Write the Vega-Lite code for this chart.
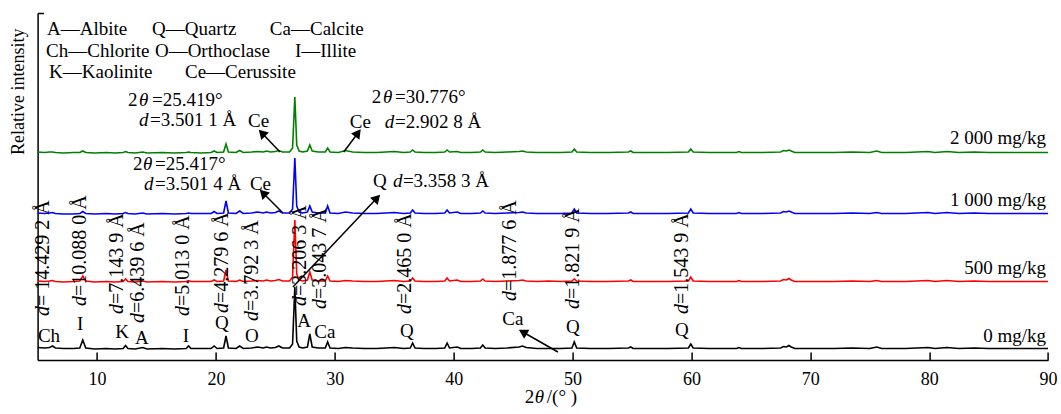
{
  "$schema": "https://vega.github.io/schema/vega-lite/v6.json",
  "width": 1010.4,
  "height": 347,
  "autosize": {"type": "none"},
  "padding": {"left": 37.6, "top": 13, "right": 13, "bottom": 54},
  "background": "white",
  "config": {"view": {"stroke": null}, "font": "Liberation Serif", "text": {"font": "Liberation Serif", "fontSize": 19, "color": "black"}},
  "datasets": {
    "xrd": [
      {"x":5.0,"k0":12.5,"k500":79,"k1000":147,"k2000":208},
      {"x":5.6,"k0":12,"k500":78.5,"k1000":146.5,"k2000":207.5},
      {"x":6.0,"k0":12.5,"k500":79,"k1000":147,"k2000":208},
      {"x":6.25,"k0":14,"k500":79.5,"k1000":147.5,"k2000":208},
      {"x":6.5,"k0":12,"k500":78.5,"k1000":146.5,"k2000":207.5},
      {"x":7.2,"k0":11.5,"k500":78,"k1000":146,"k2000":207},
      {"x":8.0,"k0":11.5,"k500":78.5,"k1000":146,"k2000":207.5},
      {"x":8.55,"k0":12,"k500":79,"k1000":146.5,"k2000":207.5},
      {"x":8.8,"k0":20,"k500":84,"k1000":148.5,"k2000":209},
      {"x":9.05,"k0":12,"k500":79,"k1000":146.5,"k2000":207.5},
      {"x":9.8,"k0":11,"k500":78,"k1000":146,"k2000":207},
      {"x":10.8,"k0":11.5,"k500":78.5,"k1000":146.5,"k2000":207.5},
      {"x":11.5,"k0":11,"k500":78,"k1000":146,"k2000":207},
      {"x":12.2,"k0":11.5,"k500":78.5,"k1000":146.5,"k2000":207.5},
      {"x":12.4,"k0":14.5,"k500":81,"k1000":147.5,"k2000":208.5},
      {"x":12.6,"k0":11.5,"k500":78.5,"k1000":146.5,"k2000":207.5},
      {"x":13.2,"k0":11,"k500":78,"k1000":146,"k2000":207},
      {"x":13.85,"k0":12.5,"k500":79,"k1000":147,"k2000":208},
      {"x":14.2,"k0":11,"k500":78,"k1000":146,"k2000":207},
      {"x":15.5,"k0":11.5,"k500":78.5,"k1000":146.5,"k2000":207.5},
      {"x":16.5,"k0":11,"k500":78,"k1000":146,"k2000":207},
      {"x":17.5,"k0":11.5,"k500":78.5,"k1000":146.5,"k2000":207.5},
      {"x":17.7,"k0":14,"k500":79.5,"k1000":147,"k2000":208},
      {"x":17.9,"k0":11.5,"k500":78.5,"k1000":146.5,"k2000":207.5},
      {"x":18.8,"k0":11.5,"k500":78.5,"k1000":146.5,"k2000":207},
      {"x":19.6,"k0":11.5,"k500":78.5,"k1000":146.5,"k2000":207.5},
      {"x":19.85,"k0":14,"k500":80,"k1000":148.5,"k2000":209},
      {"x":20.1,"k0":11.5,"k500":78.5,"k1000":146.5,"k2000":207.5},
      {"x":20.65,"k0":12,"k500":79,"k1000":147,"k2000":208},
      {"x":20.85,"k0":24,"k500":90,"k1000":159,"k2000":216},
      {"x":21.05,"k0":12,"k500":79,"k1000":147,"k2000":208},
      {"x":21.7,"k0":11.5,"k500":78.5,"k1000":146.5,"k2000":207.5},
      {"x":22.0,"k0":14,"k500":80,"k1000":149,"k2000":209.5},
      {"x":22.3,"k0":11.5,"k500":78.5,"k1000":146.5,"k2000":207.5},
      {"x":23.0,"k0":12,"k500":79,"k1000":147,"k2000":208},
      {"x":23.5,"k0":13,"k500":79.5,"k1000":148,"k2000":208.5},
      {"x":24.0,"k0":12,"k500":79,"k1000":147,"k2000":208},
      {"x":24.25,"k0":13,"k500":80,"k1000":148,"k2000":209},
      {"x":24.6,"k0":12,"k500":79,"k1000":147,"k2000":208},
      {"x":25.0,"k0":12.5,"k500":79.5,"k1000":147.5,"k2000":208.5},
      {"x":25.3,"k0":14,"k500":80.5,"k1000":149,"k2000":209.5},
      {"x":25.6,"k0":12,"k500":79,"k1000":147,"k2000":208},
      {"x":26.2,"k0":12,"k500":79,"k1000":147,"k2000":208},
      {"x":26.45,"k0":16,"k500":83,"k1000":151,"k2000":212},
      {"x":26.64,"k0":73,"k500":140,"k1000":202,"k2000":263},
      {"x":26.8,"k0":19,"k500":86,"k1000":154,"k2000":215},
      {"x":27.0,"k0":13,"k500":80,"k1000":148,"k2000":209},
      {"x":27.3,"k0":12,"k500":79,"k1000":147,"k2000":208},
      {"x":27.7,"k0":13,"k500":80,"k1000":148,"k2000":209},
      {"x":27.9,"k0":26,"k500":88,"k1000":154,"k2000":215},
      {"x":28.1,"k0":13,"k500":80,"k1000":148,"k2000":209},
      {"x":28.6,"k0":12,"k500":79,"k1000":147,"k2000":208},
      {"x":29.2,"k0":12,"k500":79,"k1000":147,"k2000":208},
      {"x":29.4,"k0":18,"k500":84,"k1000":154,"k2000":212},
      {"x":29.6,"k0":12,"k500":79,"k1000":147,"k2000":208},
      {"x":30.3,"k0":11.5,"k500":78.5,"k1000":146.5,"k2000":207.5},
      {"x":30.9,"k0":12.5,"k500":79.5,"k1000":148,"k2000":209.5},
      {"x":31.5,"k0":12,"k500":79,"k1000":147,"k2000":208},
      {"x":32.5,"k0":11.5,"k500":78.5,"k1000":146.5,"k2000":207.5},
      {"x":33.5,"k0":11.5,"k500":78.5,"k1000":146.5,"k2000":207.5},
      {"x":34.3,"k0":12,"k500":79,"k1000":147,"k2000":208},
      {"x":35.0,"k0":12.5,"k500":79.5,"k1000":147.5,"k2000":208.5},
      {"x":35.8,"k0":11.5,"k500":78.5,"k1000":146.5,"k2000":207.5},
      {"x":36.35,"k0":12,"k500":79,"k1000":147,"k2000":208},
      {"x":36.55,"k0":17,"k500":82,"k1000":150,"k2000":210},
      {"x":36.75,"k0":12,"k500":79,"k1000":147,"k2000":208},
      {"x":37.5,"k0":11.5,"k500":78.5,"k1000":146.5,"k2000":207.5},
      {"x":38.5,"k0":11.5,"k500":78.5,"k1000":146.5,"k2000":207.5},
      {"x":39.25,"k0":12,"k500":79,"k1000":147,"k2000":208},
      {"x":39.45,"k0":17,"k500":82,"k1000":150,"k2000":210},
      {"x":39.65,"k0":12,"k500":79,"k1000":147,"k2000":208},
      {"x":40.3,"k0":13,"k500":80,"k1000":148,"k2000":208.5},
      {"x":40.6,"k0":11.5,"k500":78.5,"k1000":146.5,"k2000":207.5},
      {"x":41.5,"k0":11.5,"k500":78.5,"k1000":146.5,"k2000":207.5},
      {"x":42.25,"k0":12,"k500":79,"k1000":147,"k2000":208},
      {"x":42.45,"k0":15,"k500":81,"k1000":149,"k2000":210},
      {"x":42.65,"k0":12,"k500":79,"k1000":147,"k2000":208},
      {"x":43.5,"k0":11.5,"k500":78.5,"k1000":146.5,"k2000":207.5},
      {"x":44.5,"k0":12,"k500":79,"k1000":147,"k2000":208},
      {"x":45.5,"k0":13,"k500":79.5,"k1000":147.5,"k2000":208.5},
      {"x":45.8,"k0":14,"k500":80,"k1000":148,"k2000":209},
      {"x":46.1,"k0":12.5,"k500":79,"k1000":147,"k2000":208},
      {"x":47.0,"k0":11.5,"k500":78.5,"k1000":146.5,"k2000":207.5},
      {"x":48.0,"k0":11.5,"k500":79,"k1000":146.5,"k2000":207.5},
      {"x":49.0,"k0":11.5,"k500":78.5,"k1000":146.5,"k2000":207.5},
      {"x":49.95,"k0":12,"k500":79,"k1000":147,"k2000":208},
      {"x":50.15,"k0":18,"k500":81,"k1000":151,"k2000":211},
      {"x":50.35,"k0":12,"k500":79,"k1000":147,"k2000":208},
      {"x":51.5,"k0":11.5,"k500":78.5,"k1000":146.5,"k2000":207.5},
      {"x":53.0,"k0":11.5,"k500":78.5,"k1000":146.5,"k2000":207.5},
      {"x":54.7,"k0":12,"k500":79,"k1000":147,"k2000":208},
      {"x":54.9,"k0":13,"k500":80,"k1000":148,"k2000":209},
      {"x":55.1,"k0":11.5,"k500":78.5,"k1000":146.5,"k2000":207.5},
      {"x":56.5,"k0":11.5,"k500":78.5,"k1000":146.5,"k2000":207.5},
      {"x":58.0,"k0":11.5,"k500":78.5,"k1000":146.5,"k2000":207.5},
      {"x":59.75,"k0":12,"k500":79,"k1000":147,"k2000":208},
      {"x":59.95,"k0":16,"k500":83,"k1000":151,"k2000":211},
      {"x":60.15,"k0":12,"k500":79,"k1000":147,"k2000":208},
      {"x":61.5,"k0":11.5,"k500":78.5,"k1000":146.5,"k2000":207.5},
      {"x":63.8,"k0":11.5,"k500":78.5,"k1000":146.5,"k2000":207.5},
      {"x":64.0,"k0":12.5,"k500":79.5,"k1000":147.5,"k2000":208.5},
      {"x":64.2,"k0":11.5,"k500":78.5,"k1000":146.5,"k2000":207.5},
      {"x":66.0,"k0":11.5,"k500":78.5,"k1000":146.5,"k2000":207.5},
      {"x":67.5,"k0":12,"k500":79,"k1000":147,"k2000":208},
      {"x":67.75,"k0":13.5,"k500":80.5,"k1000":148.5,"k2000":209.5},
      {"x":68.0,"k0":13,"k500":80,"k1000":148,"k2000":209},
      {"x":68.2,"k0":14.5,"k500":81.5,"k1000":149,"k2000":210},
      {"x":68.4,"k0":13,"k500":80,"k1000":148,"k2000":209},
      {"x":68.7,"k0":11.5,"k500":78.5,"k1000":146.5,"k2000":207.5},
      {"x":70.0,"k0":11.5,"k500":78.5,"k1000":146.5,"k2000":207.5},
      {"x":72.0,"k0":11.5,"k500":78.5,"k1000":146.5,"k2000":207.5},
      {"x":73.5,"k0":12,"k500":79,"k1000":147,"k2000":208},
      {"x":75.0,"k0":11.5,"k500":78.5,"k1000":146.5,"k2000":207.5},
      {"x":75.6,"k0":13,"k500":79.5,"k1000":147.5,"k2000":209},
      {"x":76.0,"k0":11.5,"k500":78.5,"k1000":146.5,"k2000":207.5},
      {"x":78.0,"k0":11.5,"k500":78.5,"k1000":146.5,"k2000":207.5},
      {"x":79.9,"k0":12.5,"k500":79.5,"k1000":147.5,"k2000":208.5},
      {"x":80.5,"k0":11.5,"k500":78.5,"k1000":146.5,"k2000":207.5},
      {"x":81.5,"k0":12.5,"k500":79.5,"k1000":147.5,"k2000":208.5},
      {"x":82.5,"k0":11.5,"k500":78.5,"k1000":146.5,"k2000":207.5},
      {"x":83.8,"k0":12,"k500":79,"k1000":147,"k2000":208},
      {"x":85.0,"k0":11.5,"k500":78.5,"k1000":146.5,"k2000":207.5},
      {"x":87.0,"k0":11.5,"k500":78.5,"k1000":146.5,"k2000":207.5},
      {"x":89.0,"k0":11.5,"k500":78.5,"k1000":146.5,"k2000":207.5},
      {"x":90.0,"k0":11.5,"k500":78.5,"k1000":146.5,"k2000":207.5}
    ],
    "roman": [
      {"x":5.79,"y":325,"t":"A—Albite"},
      {"x":14.62,"y":325,"t":"Q—Quartz"},
      {"x":24.54,"y":325,"t":"Ca—Calcite"},
      {"x":5.71,"y":303,"t":"Ch—Chlorite"},
      {"x":14.87,"y":303,"t":"O—Orthoclase"},
      {"x":26.65,"y":303,"t":"I—Illite"},
      {"x":5.96,"y":282,"t":"K—Kaolinite"},
      {"x":17.40,"y":282,"t":"Ce—Cerussite"},
      {"x":12.60,"y":254,"t":"2"},
      {"x":14.62,"y":254,"t":"=25.419°"},
      {"x":14.45,"y":234,"t":"=3.501 1 Å"},
      {"x":22.70,"y":233,"t":"Ce"},
      {"x":33.12,"y":257,"t":"2"},
      {"x":35.06,"y":257,"t":"=30.776°"},
      {"x":31.27,"y":232,"t":"Ce"},
      {"x":35.06,"y":232,"t":"=2.902 8 Å"},
      {"x":13.02,"y":190,"t":"2"},
      {"x":14.87,"y":190,"t":"=25.417°"},
      {"x":14.87,"y":170,"t":"=3.501 4 Å"},
      {"x":22.86,"y":170,"t":"Ce"},
      {"x":33.21,"y":173,"t":"Q"},
      {"x":35.73,"y":173,"t":"=3.358 3 Å"},
      {"x":45.99,"y":-43,"t":"2"},
      {"x":47.84,"y":-43,"t":"/(°  )"}
    ],
    "ital": [
      {"x":13.53,"y":254,"t":"θ"},
      {"x":13.53,"y":234,"t":"d"},
      {"x":34.05,"y":257,"t":"θ"},
      {"x":34.21,"y":232,"t":"d"},
      {"x":13.86,"y":190,"t":"θ"},
      {"x":13.95,"y":170,"t":"d"},
      {"x":34.89,"y":173,"t":"d"},
      {"x":46.83,"y":-43,"t":"θ"}
    ],
    "minerals": [
      {"x":5.96,"y":18,"t":"Ch"},
      {"x":8.57,"y":30,"t":"I"},
      {"x":12.10,"y":22,"t":"K"},
      {"x":13.78,"y":16,"t":"A"},
      {"x":17.48,"y":18,"t":"I"},
      {"x":20.51,"y":31,"t":"Q"},
      {"x":23.03,"y":18,"t":"O"},
      {"x":27.41,"y":33,"t":"A"},
      {"x":29.17,"y":22,"t":"Ca"},
      {"x":36.07,"y":23,"t":"Q"},
      {"x":44.98,"y":35,"t":"Ca"},
      {"x":50.03,"y":27,"t":"Q"},
      {"x":59.20,"y":24,"t":"Q"}
    ],
    "serieslab": [
      {"x":89.83,"y":216,"t":"2 000 mg/kg"},
      {"x":89.83,"y":154,"t":"1 000 mg/kg"},
      {"x":89.83,"y":86,"t":"500 mg/kg"},
      {"x":89.83,"y":18,"t":"0 mg/kg"}
    ],
    "dlab": [
      {"x":5.45,"y":54,"t":"= 14.429 2 Å"},
      {"x":8.57,"y":64,"t":"=10.088 0 Å"},
      {"x":11.68,"y":56,"t":"=7.143 9 Å"},
      {"x":13.44,"y":47,"t":"=6.439 6 Å"},
      {"x":17.23,"y":54,"t":"=5.013 0 Å"},
      {"x":20.51,"y":57,"t":"=4.279 6 Å"},
      {"x":23.04,"y":49,"t":"=3.792 3 Å"},
      {"x":27.07,"y":64,"t":"=3.206 3 Å"},
      {"x":28.75,"y":61,"t":"=3.043 7 Å"},
      {"x":35.90,"y":56,"t":"=2.465 0 Å"},
      {"x":44.73,"y":69,"t":"=1.877 6 Å"},
      {"x":50.03,"y":61,"t":"=1.821 9 Å"},
      {"x":59.20,"y":56,"t":"=1.543 9 Å"}
    ],
    "arrows": [
      {"x":25.39,"y":208,"x2":23.87,"y2":227,"ang":316},
      {"x":30.75,"y":208,"x2":31.95,"y2":227,"ang":37},
      {"x":25.64,"y":147,"x2":23.96,"y2":167,"ang":315},
      {"x":26.48,"y":73,"x2":33.55,"y2":162,"ang":43},
      {"x":48.77,"y":8,"x2":45.82,"y2":28,"ang":300}
    ]
  },
  "layer": [
    {
      "data": {"name": "xrd"},
      "transform": [{"fold": ["k0", "k500", "k1000", "k2000"], "as": ["series", "y"]}],
      "mark": {"type": "line", "strokeWidth": 1.6},
      "encoding": {
        "x": {"field": "x", "type": "quantitative", "scale": {"domain": [5, 90], "nice": false, "zero": false},
          "axis": {"title": null, "values": [10, 20, 30, 40, 50, 60, 70, 80, 90], "tickSize": -8, "tickColor": "black", "tickWidth": 1.5, "domainColor": "black", "domainWidth": 1.5, "grid": false, "labelFont": "Liberation Serif", "labelFontSize": 18, "labelColor": "black", "labelPadding": 18, "labelFlush": false}},
        "y": {"field": "y", "type": "quantitative", "scale": {"domain": [0, 347], "nice": false, "zero": false},
          "axis": {"title": "Relative intensity", "values": [347], "labels": false, "tickSize": -6, "tickColor": "black", "tickWidth": 1.5, "domainColor": "black", "domainWidth": 1.5, "grid": false, "titleFont": "Liberation Serif", "titleFontSize": 18, "titleFontWeight": "normal", "titleColor": "black", "titleAnchor": "end", "titleAngle": 270, "titleAlign": "right", "titleBaseline": "middle", "titleX": -19, "titleY": 15}},
        "color": {"field": "series", "type": "nominal", "scale": {"domain": ["k0", "k500", "k1000", "k2000"], "range": ["#000000", "#ff0000", "#0000ff", "#008000"]}, "legend": null}
      }
    },
    {
      "mark": {"type": "rule", "color": "black", "strokeWidth": 1.2},
      "encoding": {"y": {"datum": 8, "type": "quantitative"}}
    },
    {
      "data": {"name": "roman"},
      "mark": {"type": "text", "align": "left", "baseline": "alphabetic"},
      "encoding": {"x": {"field": "x", "type": "quantitative"}, "y": {"field": "y", "type": "quantitative"}, "text": {"field": "t"}}
    },
    {
      "data": {"name": "ital"},
      "mark": {"type": "text", "align": "left", "baseline": "alphabetic", "fontStyle": "italic"},
      "encoding": {"x": {"field": "x", "type": "quantitative"}, "y": {"field": "y", "type": "quantitative"}, "text": {"field": "t"}}
    },
    {
      "data": {"name": "minerals"},
      "mark": {"type": "text", "align": "center", "baseline": "alphabetic"},
      "encoding": {"x": {"field": "x", "type": "quantitative"}, "y": {"field": "y", "type": "quantitative"}, "text": {"field": "t"}}
    },
    {
      "data": {"name": "serieslab"},
      "mark": {"type": "text", "align": "right", "baseline": "alphabetic"},
      "encoding": {"x": {"field": "x", "type": "quantitative"}, "y": {"field": "y", "type": "quantitative"}, "text": {"field": "t"}}
    },
    {
      "data": {"name": "dlab"},
      "mark": {"type": "text", "align": "right", "baseline": "middle", "angle": 270, "fontStyle": "italic", "fontSize": 20, "text": "d"},
      "encoding": {"x": {"field": "x", "type": "quantitative"}, "y": {"field": "y", "type": "quantitative"}}
    },
    {
      "data": {"name": "dlab"},
      "mark": {"type": "text", "align": "left", "baseline": "middle", "angle": 270, "fontSize": 20},
      "encoding": {"x": {"field": "x", "type": "quantitative"}, "y": {"field": "y", "type": "quantitative"}, "text": {"field": "t"}}
    },
    {
      "data": {"name": "arrows"},
      "mark": {"type": "rule", "color": "black", "strokeWidth": 1.5},
      "encoding": {"x": {"field": "x", "type": "quantitative"}, "y": {"field": "y", "type": "quantitative"}, "x2": {"field": "x2"}, "y2": {"field": "y2"}}
    },
    {
      "data": {"name": "arrows"},
      "mark": {"type": "point", "shape": "triangle-up", "filled": true, "color": "black", "opacity": 1, "size": 110},
      "encoding": {"x": {"field": "x2", "type": "quantitative"}, "y": {"field": "y2", "type": "quantitative"}, "angle": {"field": "ang", "type": "quantitative", "scale": null}}
    }
  ]
}
